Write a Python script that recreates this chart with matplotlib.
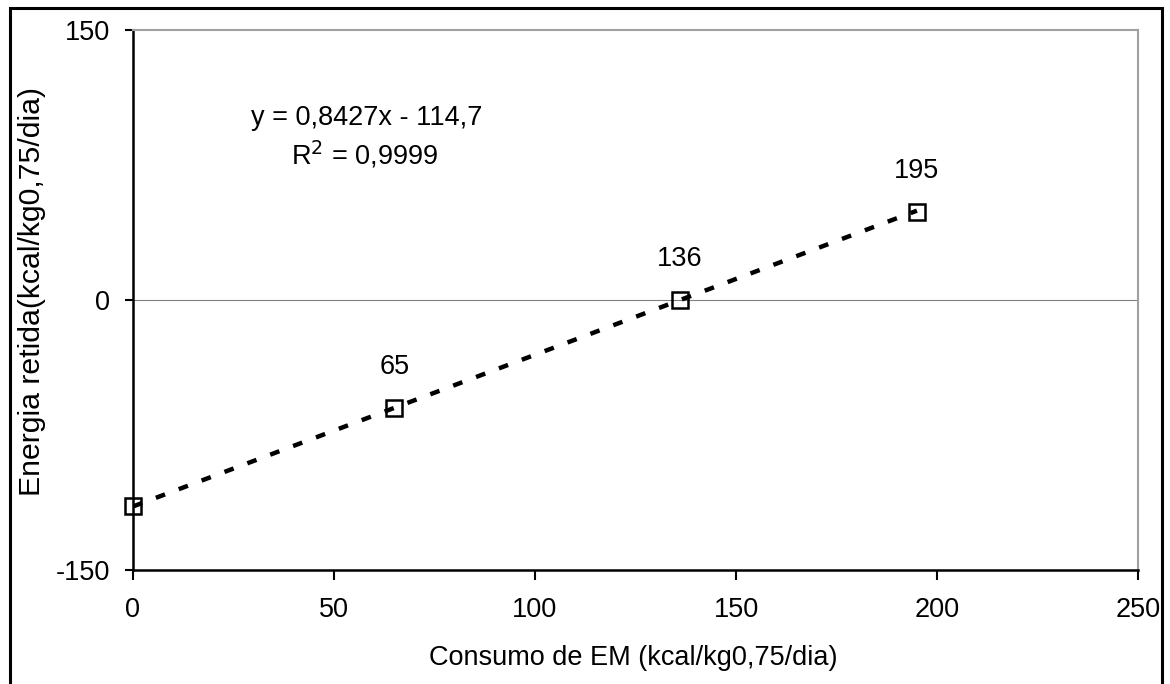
import matplotlib
matplotlib.use("Agg")
import matplotlib.pyplot as plt
from matplotlib.patches import Rectangle
import numpy as np

plt.rcParams['font.family'] = ['Liberation Sans', 'DejaVu Sans']
plt.rcParams['axes.unicode_minus'] = False

x_vals = [0, 65, 136, 195]
y_vals = [-114.7, -60, 0, 49]
point_labels = ["", "65", "136", "195"]
slope, intercept = 0.8427, -114.7
x_ticks = [0, 50, 100, 150, 200, 250]
y_ticks = [-150, 0, 150]

FS = 19.5
fig = plt.figure(figsize=(11.7, 6.84), dpi=100)
W, H = 1170, 684
ax = fig.add_axes([133 / W, 1 - 570 / H, (1138 - 133) / W, (570 - 30) / H])

# outer border
fig.patches.append(Rectangle((10 / W, -0.01), (1162 - 10) / W, 1 - 8 / H + 0.01,
                             transform=fig.transFigure, fill=False, edgecolor='black',
                             linewidth=2.2))

ax.set_xlim(0, 250)
ax.set_ylim(-150, 150)
ax.axhline(0, color='#808080', lw=0.8, zorder=1)

xl = np.array([x_vals[0], x_vals[-1]])
ax.plot(xl, slope * xl + intercept, color='black', lw=3.2, linestyle=(0, (2.2, 3.3)),
        zorder=3)
ax.plot(x_vals, y_vals, linestyle='none', marker='s', markersize=12,
        markerfacecolor='none', markeredgecolor='black', markeredgewidth=1.8, zorder=4,
        clip_on=False)

for xv, yv, lab in zip(x_vals, y_vals, point_labels):
    if lab:
        ax.annotate(lab, (xv, yv), xytext=(0, 29.5), textcoords='offset points',
                    ha='center', va='center', fontsize=FS)

ax.text(58.2, 101.1, "y = 0,8427x - 114,7", ha='center', va='center', fontsize=FS)
ax.text(57.7, 80.6, "R$^2$ = 0,9999", ha='center', va='center', fontsize=FS)

ax.set_xticks(x_ticks)
ax.set_yticks(y_ticks)
ax.tick_params(axis='both', direction='out', width=1.5, labelsize=FS, color='black')
ax.tick_params(axis='x', length=7.5, pad=12)
ax.tick_params(axis='y', length=6, pad=10.5)

for s in ['left', 'bottom']:
    ax.spines[s].set_color('black')
    ax.spines[s].set_linewidth(1.8)
for s in ['top', 'right']:
    ax.spines[s].set_color('#a0a0a0')
    ax.spines[s].set_linewidth(1.5)

fig.text(633 / W, 1 - 658 / H, "Consumo de EM (kcal/kg0,75/dia)", ha='center',
         va='center', fontsize=FS)
fig.text(32 / W, 1 - 291 / H, "Energia retida(kcal/kg0,75/dia)", ha='center',
         va='center', rotation=90, fontsize=21.8)

fig.savefig("out.png", dpi=100)
